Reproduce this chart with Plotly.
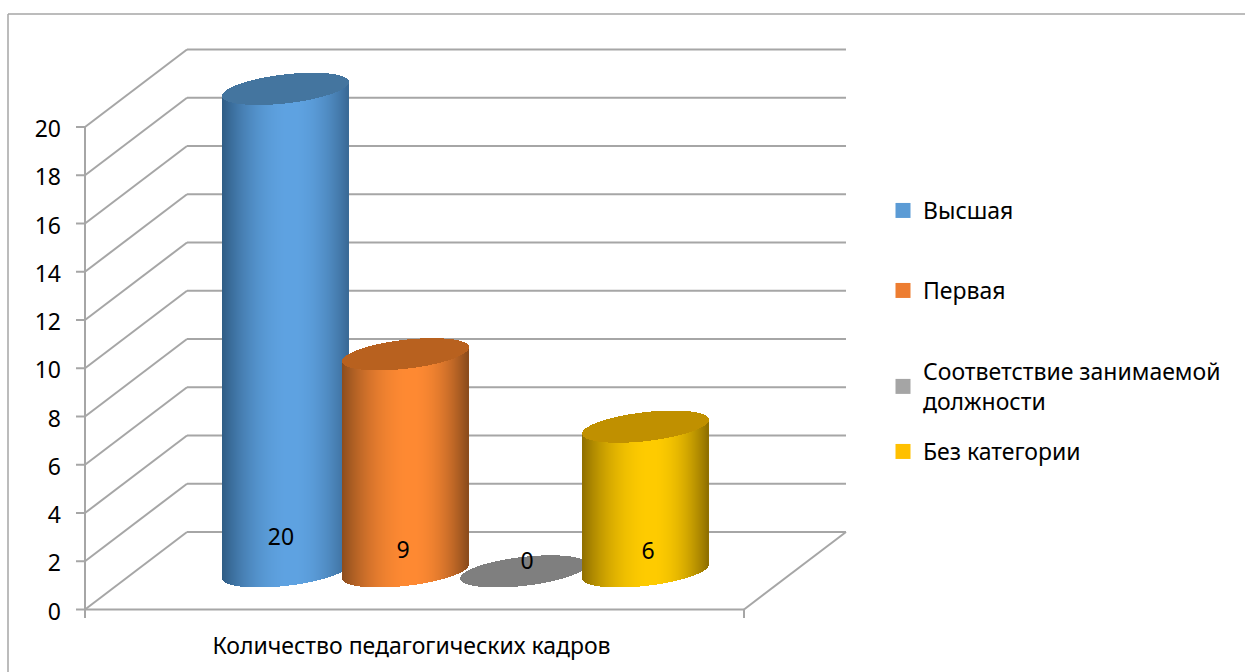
import numpy as np
import plotly.graph_objects as go

# ---- data ----
categories = ["Высшая", "Первая", "Соответствие занимаемой<br>должности", "Без категории"]
values = [20, 9, 0, 6]
axis_category = "Количество педагогических кадров"
y_ticks = [0, 2, 4, 6, 8, 10, 12, 14, 16, 18, 20]

# ---- styles ----
FONT = "Noto Sans"
FS = 23
GRID = "#A6A6A6"
swatches = ["#5B9BD5", "#ED7D31", "#A5A5A5", "#FFC000"]
edge_left = ["#2F5C84", "#8C4D1E", "#7F7F7F", "#8F6F00"]
mid = ["#5FA3E2", "#FF8A33", "#7F7F7F", "#FFCC00"]
edge_right = ["#3A6A96", "#8A4B1C", "#7F7F7F", "#8F6F00"]
top_col = ["#44759F", "#B8611F", "#7F7F7F", "#C09000"]

# ---- geometry (pixels of the 1245x672 page) ----
W, H = 1245, 672
X0, X1 = 85.0, 744.0      # front floor edge
Y0, Y20 = 609.5, 127.0    # y=0 and y=20 on the front wall
PXX = X1 - X0
PXY = (Y0 - Y20) / 20
DEPTH_X = 102 / PXX
DEPTH_Y = 77.5 / PXY
L, R, T, B = 76, 850, 47, 618
x_range = [(L - X0) / PXX, (R - X0) / PXX]
y_range = [(Y0 - B) / PXY, (Y0 - T) / PXY]
px = lambda p: (p - X0) / PXX

RAD = 63 / PXX
TILT = 7 / PXY
BH = 14.5 / PXY
COFF = 1.58
centers = [px(286), px(406), px(524), px(646)]
label_x = [px(281), px(403), px(527), px(648)]
label_y = [2.91, 2.38, 1.92, 2.34]
STEP = 1.0 / PXX
STRIP = 1.7 / PXX


def rgb(h):
    return np.array([int(h[i:i + 2], 16) for i in (1, 3, 5)], float)


def shade(u, i):
    d = abs(u - 0.1) / (1.1 if u < 0.1 else 0.9)
    t = 1 - d ** 2
    edge = rgb(edge_left[i] if u < 0.1 else edge_right[i])
    c = edge + (rgb(mid[i]) - edge) * t
    return "rgb(%d,%d,%d)" % tuple(c)


fig = go.Figure()
for i, (c, v) in enumerate(zip(centers, values)):
    n = int(2 * RAD / STEP)
    xs = c - RAD + (np.arange(n) + 0.5) * STEP
    us = (xs - c) / RAD
    arc = BH * np.sqrt(1 - us ** 2)
    lower = COFF + TILT * us - arc
    upper = COFF + TILT * us + arc
    if v > 0:
        fig.add_trace(go.Bar(x=xs, y=np.full(n, v), base=lower, width=STRIP,
                             marker=dict(color=[shade(u, i) for u in us], line=dict(width=0)),
                             showlegend=False, hoverinfo="skip"))
    fig.add_trace(go.Bar(x=xs, y=upper - lower, base=lower + v, width=STRIP,
                         marker=dict(color=top_col[i], line=dict(width=0)),
                         showlegend=False, hoverinfo="skip"))

fig.add_trace(go.Scatter(x=label_x, y=label_y, mode="text", text=[str(v) for v in values],
                         textposition="middle center", textfont=dict(family=FONT, size=FS, color="black"),
                         showlegend=False, hoverinfo="skip"))

# legend: one legend per entry, because their spacing is uneven
legend_top = [189, 269, 350, 430]
layout_legends = {}
for i, name in enumerate(categories):
    key = "legend" if i == 0 else f"legend{i + 1}"
    fig.add_trace(go.Scatter(x=[None], y=[None], mode="markers", name=name, legend=key,
                             marker=dict(symbol="square", size=15, color=swatches[i])))
    layout_legends[key] = dict(xref="container", yref="container", x=883 / W, y=1 - legend_top[i] / H,
                               xanchor="left", yanchor="top", bgcolor="rgba(0,0,0,0)",
                               font=dict(family=FONT, size=FS, color="black"))

# walls and floor as shapes below the columns
shapes = []


def seg(x0, y0, x1, y1, **kw):
    shapes.append(dict(type="line", x0=x0, y0=y0, x1=x1, y1=y1, xref="x", yref="y", layer="below",
                       line=dict(color=GRID, width=2)))


for t in y_ticks:
    seg(0, t, DEPTH_X, t + DEPTH_Y)
    seg(DEPTH_X, t + DEPTH_Y, 1 + DEPTH_X, t + DEPTH_Y)
    seg(x_range[0], t, 0, t)
seg(0, 0, 0, y_ticks[-1])
seg(0, 0, 1, 0)
seg(1, 0, 1 + DEPTH_X, DEPTH_Y)
seg(0, 0, 0, y_range[0])
seg(1, 0, 1, y_range[0])

# outer frame, open at the right and bottom like the cropped source
pw, ph = R - L, B - T
fx = lambda p: (p - L) / pw
fy = lambda p: (B - p) / ph
for a, b, c, d in [(8, 14, W, 14), (8, 14, 8, H)]:
    shapes.append(dict(type="line", xref="paper", yref="paper", x0=fx(a), y0=fy(b), x1=fx(c), y1=fy(d),
                       layer="below", line=dict(color="#A6A6A6", width=1.5)))

fig.update_layout(
    width=W, height=H, margin=dict(l=L, r=W - R, t=T, b=H - B, pad=0), autosize=False,
    paper_bgcolor="white", plot_bgcolor="white", barmode="overlay", bargap=0,
    shapes=shapes, **layout_legends,
    font=dict(family=FONT, size=FS, color="black"),
    xaxis=dict(range=x_range, tickmode="array", tickvals=[px(411.5)], ticktext=[axis_category], ticks="",
               showgrid=False, zeroline=False, showline=False, ticklabelstandoff=12,
               tickfont=dict(family=FONT, size=FS, color="black")),
    yaxis=dict(range=y_range, tickmode="array", tickvals=y_ticks, ticks="", showgrid=False, zeroline=False,
               showline=False, ticklabelstandoff=14, ticklabelshift=2,
               tickfont=dict(family=FONT, size=FS, color="black")),
)
fig.write_html("out.html", post_script="document.body.style.margin='0';",
               config={"displayModeBar": False})
